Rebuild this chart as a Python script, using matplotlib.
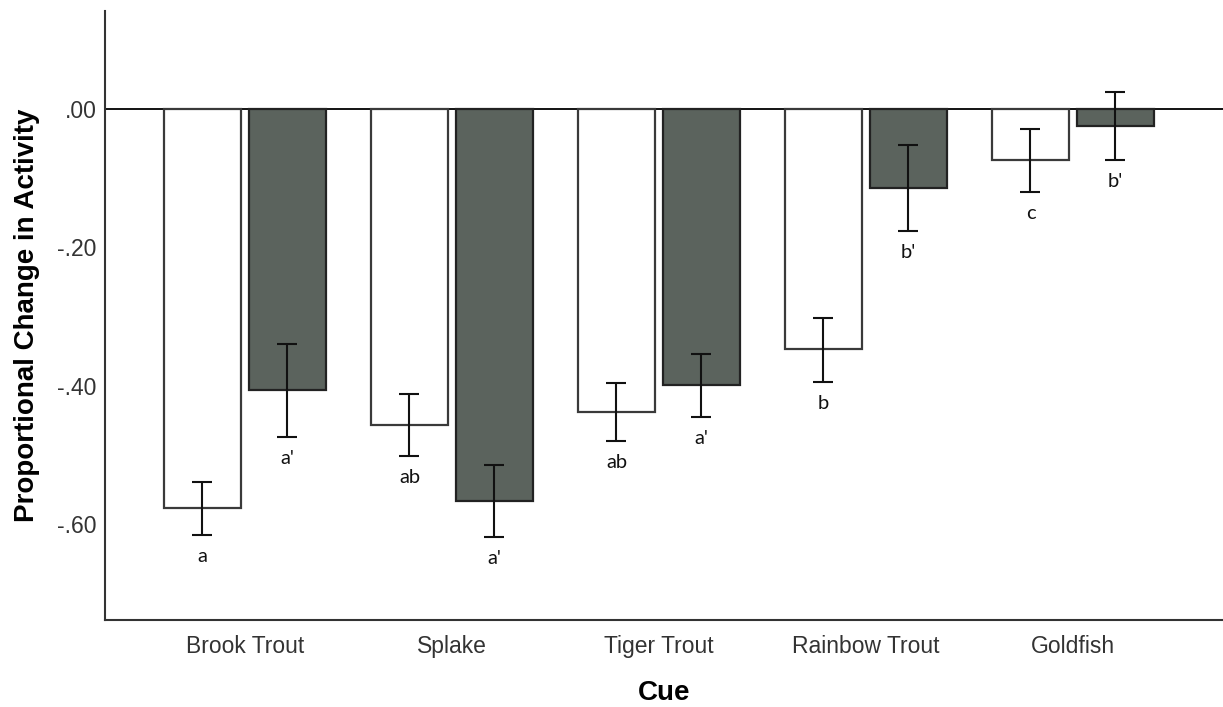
import numpy as np
import matplotlib.pyplot as plt

cues = ['Brook Trout', 'Splake', 'Tiger Trout', 'Rainbow Trout', 'Goldfish']
# white bars (first group) and dark bars (second group)
white_mean = [-0.577, -0.457, -0.438, -0.347, -0.074]
white_lo = [-0.616, -0.502, -0.480, -0.395, -0.120]
white_hi = [-0.539, -0.412, -0.396, -0.302, -0.029]
dark_mean = [-0.406, -0.567, -0.399, -0.114, -0.025]
dark_lo = [-0.474, -0.619, -0.445, -0.176, -0.074]
dark_hi = [-0.340, -0.515, -0.354, -0.052, 0.025]
white_letters = ['a', 'ab', 'ab', 'b', 'c']
dark_letters = ["a'", "a'", "a'", "b'", "b'"]
yticks = [0.0, -0.2, -0.4, -0.6]
ytick_labels = ['.00', '-.20', '-.40', '-.60']

fig = plt.figure(figsize=(12.23, 7.07), dpi=100)
ax = fig.add_axes([105/1223, 1-620/707, 1-105/1223, (620-11)/707])

x = np.arange(len(cues))
w = 0.372
off = 0.205

ax.axhline(0, color='black', lw=1.3, zorder=1)

def draw(xpos, mean, lo, hi, letters, face, edge):
    mean = np.array(mean)
    err = [mean - np.array(lo), np.array(hi) - mean]
    ax.bar(xpos, mean, w, color=face, edgecolor=edge, linewidth=1.6, zorder=2)
    ax.errorbar(xpos, mean, yerr=err, fmt='none', ecolor='#111111',
                elinewidth=1.5, capsize=7.5, capthick=1.5, zorder=3)
    for xi, l, t in zip(xpos, lo, letters):
        ax.annotate(t, (xi, l), xytext=(0, -19.5), textcoords='offset points',
                    ha='center', va='baseline', fontsize=14.5,
                    family=['Lato', 'DejaVu Sans'], color='#111111')

draw(x - off, white_mean, white_lo, white_hi, white_letters, 'white', '#3a3a3a')
draw(x + off, dark_mean, dark_lo, dark_hi, dark_letters, '#5b635d', '#222222')

ax.set_xlim(-0.676, 4.725)
ax.set_ylim(-0.739, 0.142)
ax.set_xticks(x)
ax.set_xticklabels(cues)
ax.set_yticks(yticks)
ax.set_yticklabels(ytick_labels)
ax.tick_params(axis='both', length=0, labelsize=16.5, labelcolor='#333333')
ax.tick_params(axis='y', pad=6)
ax.tick_params(axis='x', pad=11)
for lab in ax.get_xticklabels() + ax.get_yticklabels():
    lab.set_family('Liberation Sans')

for s in ['top', 'right']:
    ax.spines[s].set_visible(False)
for s in ['left', 'bottom']:
    ax.spines[s].set_color('#333333')
    ax.spines[s].set_linewidth(1.5)

ax.set_ylabel('Proportional Change in Activity', fontsize=20, fontweight='bold',
              family='Liberation Sans', labelpad=12)
ax.set_xlabel('Cue', fontsize=20, fontweight='bold', family='Liberation Sans',
              labelpad=16)

fig.savefig('out.png', dpi=100)
